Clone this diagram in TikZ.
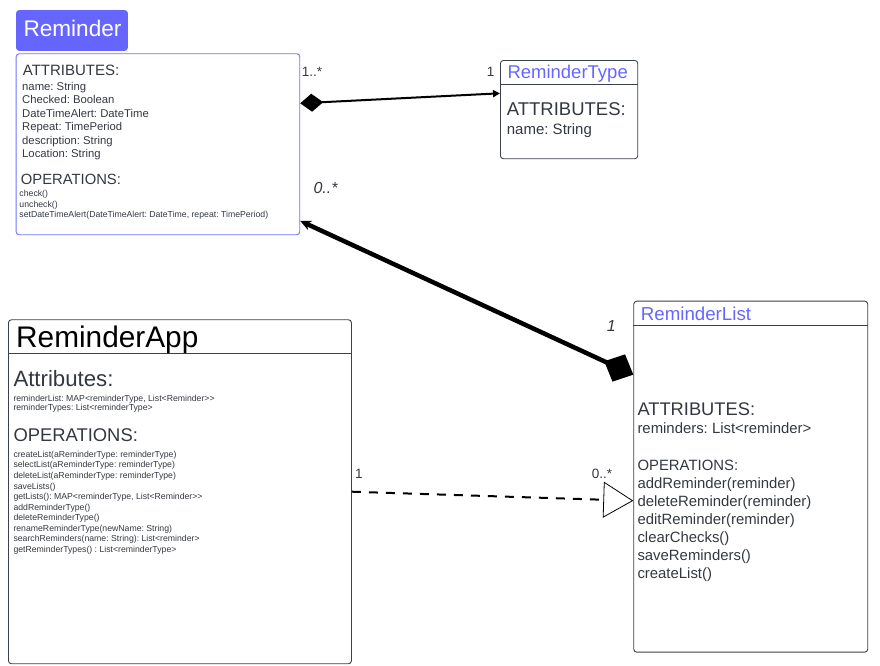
\documentclass[tikz,border=0pt]{standalone}
\usepackage{fontspec}
\setmainfont{Liberation Sans}
\usetikzlibrary{arrows.meta,positioning}
\definecolor{umlblue}{RGB}{102,102,255}
\definecolor{umlline}{RGB}{58,65,74}
\definecolor{umltext}{RGB}{51,56,64}
\definecolor{remline}{RGB}{112,112,255}
\newcommand{\fsz}[2]{\fontsize{#1}{#2}\selectfont}
\frenchspacing

\begin{document}
\begin{tikzpicture}[x=1pt,y=-1pt,
box/.style={draw=umlline,line width=0.9pt,rounded corners=3pt,anchor=north west,inner sep=0pt},
hline/.style={draw=umlline,line width=0.9pt},
txt/.style={anchor=base west,inner sep=0pt,align=left,text=umltext},
lbl/.style={anchor=base west,inner sep=0pt,text=umltext,font=\fsz{13.5}{16}},
ilbl/.style={anchor=base west,inner sep=0pt,text=umltext,font=\fsz{16}{18}\itshape},
comp/.style={line width=2pt,{Diamond[length=23pt,width=18pt]}-{Triangle[length=7pt,width=7pt]}},
bigcomp/.style={line width=4.5pt,{Diamond[length=32pt,width=30pt]}-{Stealth[length=11pt,width=10pt]}},
dep/.style={line width=2pt,dash pattern=on 9pt off 8pt,-{Triangle[open,length=30pt,width=36pt,line width=0.8pt]}}
]
\useasboundingbox (0,0) rectangle (880,665);

% Reminder (multi-line texts are placed by their last baseline)
\node[box,draw=umlblue,fill=umlblue,minimum width=111pt,minimum height=40pt] (remhead) at (16,10) {};
\node[txt,text=white,font=\fsz{22.6}{26}] (remtitle) at (23.3,36.7) {Reminder};
\node[box,draw=remline,minimum width=283.6pt,minimum height=181pt] (rem) at (15.7,53.3) {};
\node[txt,font=\fsz{15}{18}] (remattrhead) at (22.7,75) {ATTRIBUTES:};
\node[txt,font=\fsz{11.3}{13.5}] (remattr) at (22,157.5) {name: String\\Checked: Boolean\\DateTimeAlert: DateTime\\Repeat: TimePeriod\\description: String\\Location: String};
\node[txt,font=\fsz{14.8}{18}] (remophead) at (20.7,184.3) {OPERATIONS:};
\node[txt,font=\fsz{8.7}{10.5}] (remops) at (19.3,217.7) {check()\\uncheck()\\setDateTimeAlert(DateTimeAlert: DateTime, repeat: TimePeriod)};

% ReminderType
\node[box,minimum width=137.3pt,minimum height=98.3pt] (rt) at (500,60) {};
\draw[hline] ([yshift=-24pt]rt.north west) -- ([yshift=-24pt]rt.north east);
\node[txt,text=umlblue,font=\fsz{18.5}{22}] (rttitle) at (507.3,78.3) {ReminderType};
\node[txt,font=\fsz{18.5}{22}] (rtattrhead) at (506.7,115.7) {ATTRIBUTES:};
\node[txt,font=\fsz{15}{18}] (rtattr) at (506.7,134) {name: String};

% ReminderApp
\node[box,minimum width=343pt,minimum height=344pt] (app) at (8,319.3) {};
\draw[hline] ([yshift=-34pt]app.north west) -- ([yshift=-34pt]app.north east);
\node[txt,text=black,font=\fsz{29.8}{34}] (apptitle) at (16,347.3) {ReminderApp};
\node[txt,font=\fsz{22.2}{26}] (appattrhead) at (13.3,386.7) {Attributes:};
\node[txt,font=\fsz{8.7}{9.7}] (appattr) at (13.3,410.7) {reminderList: MAP<reminderType, List<Reminder>{}>\\reminderTypes: List<reminderType>};
\node[txt,font=\fsz{18.4}{22}] (appophead) at (13.3,441.7) {OPERATIONS:};
\node[txt,font=\fsz{8.7}{10.55}] (appops) at (13.3,552.3) {createList(aReminderType: reminderType)\\selectList(aReminderType: reminderType)\\deleteList(aReminderType: reminderType)\\saveLists()\\getLists(): MAP<reminderType, List<Reminder>{}>\\addReminderType()\\deleteReminderType()\\renameReminderType(newName: String)\\searchReminders(name: String): List<reminder>\\getReminderTypes() : List<reminderType>};

% ReminderList
\node[box,minimum width=234pt,minimum height=351pt] (rl) at (633.3,300.7) {};
\draw[hline] ([yshift=-24.6pt]rl.north west) -- ([yshift=-24.6pt]rl.north east);
\node[txt,text=umlblue,font=\fsz{18.7}{22}] (rltitle) at (640.7,320) {ReminderList};
\node[txt,font=\fsz{18.3}{22}] (rlattrhead) at (637.3,415) {ATTRIBUTES:};
\node[txt,font=\fsz{14.9}{18.2}] (rlattr) at (637.3,433.3) {reminders: List<reminder>};
\node[txt,font=\fsz{14.9}{18.05}] (rlops) at (637.3,578.3) {OPERATIONS:\\addReminder(reminder)\\deleteReminder(reminder)\\editReminder(reminder)\\clearChecks()\\saveReminders()\\createList()};

% connectors
\draw[comp] ([yshift=-50pt]rem.north east) -- ([yshift=-33.3pt]rt.north west);
\draw[bigcomp] ([yshift=-74pt]rl.north west) -- ([yshift=14.3pt]rem.south east);
\draw[dep] ([yshift=-172.4pt]app.north east) -- ([yshift=-200pt]rl.north west);

% multiplicities
\node[lbl] (remmult) at (301.7,76) {1..*};
\node[lbl] (rtmult) at (486.7,76) {1};
\node[ilbl] (remlistmult) at (313.3,193.3) {0..*};
\node[ilbl] (rlmult) at (606.7,331.7) {1};
\node[lbl] (appmult) at (355,478.3) {1};
\node[lbl] (rldepmult) at (591.7,478.3) {0..*};
\end{tikzpicture}
\end{document}
